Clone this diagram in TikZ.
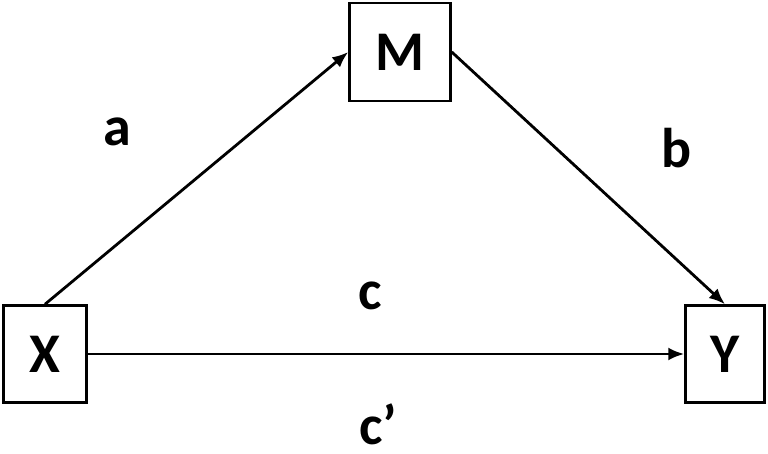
\documentclass[tikz,border=0pt]{standalone}
\usepackage{fontspec}
\setmainfont{Carlito}
\usetikzlibrary{arrows.meta}
\begin{document}
\begin{tikzpicture}[x=1pt,y=-1pt,
 box/.style={draw,line width=2.5pt,inner sep=0pt,font=\fontsize{56}{60}\selectfont\bfseries},
 lab/.style={font=\fontsize{56}{60}\selectfont\bfseries},
 arr/.style={-{Latex[length=16pt,width=13pt]},line width=2.8pt}]
\useasboundingbox (0,0) rectangle (768,454);
\node[box,minimum width=101pt,minimum height=98pt] (M) at (400,52) {M};
\node[box,minimum width=83pt,minimum height=97pt] (X) at (45,354) {X};
\node[box,minimum width=79pt,minimum height=97pt] (Y) at (725,354) {Y};
\draw[arr] (X.north) -- (M.west);
\draw[arr] (M.east) -- (Y.north);
\draw[arr] (X.east) -- (Y.west);
\node[lab] (a) at (117,132) {a};
\node[lab] (b) at (677,148) {b};
\node[lab] (c) at (370,296) {c};
\node[lab] (cp) at (378,424) {c’};
\end{tikzpicture}
\end{document}
